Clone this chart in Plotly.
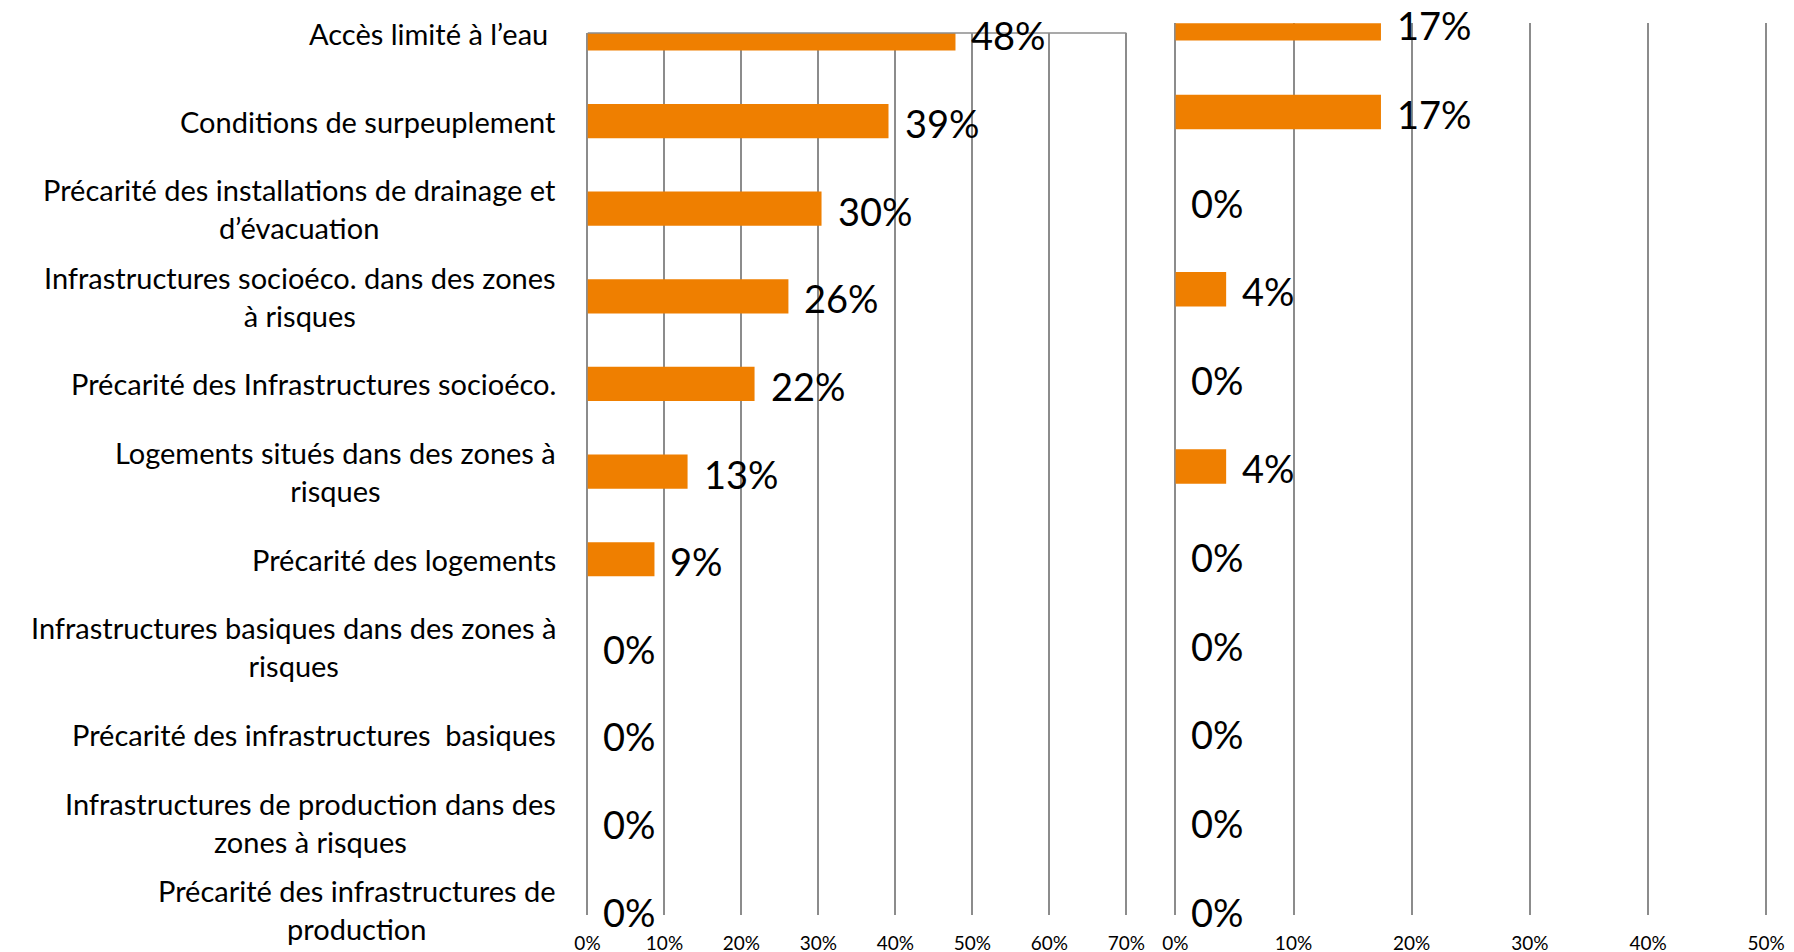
import plotly.graph_objects as go

# Categories (top to bottom) and the two series of shares
categories = [
    "Accès limité à l’eau ",
    "Conditions de surpeuplement",
    "Précarité des installations de drainage et<br>d’évacuation",
    "Infrastructures socioéco. dans des zones<br>à risques",
    "Précarité des Infrastructures socioéco.",
    "Logements situés dans des zones à<br>risques",
    "Précarité des logements",
    "Infrastructures basiques dans des zones à<br>risques",
    "Précarité des infrastructures  basiques",
    "Infrastructures de production dans des<br>zones à risques",
    "Précarité des infrastructures de<br>production",
]
left_values = [0.478, 0.391, 0.304, 0.261, 0.217, 0.130, 0.087, 0, 0, 0, 0]
right_values = [0.174, 0.174, 0, 0.043, 0, 0.043, 0, 0, 0, 0, 0]

left_ticks = [0, 0.1, 0.2, 0.3, 0.4, 0.5, 0.6, 0.7]
right_ticks = [0, 0.1, 0.2, 0.3, 0.4, 0.5]

W, H = 1794, 952
ORANGE = "#EF7F00"
GRID = "#8C8C8C"
FONT = "Lato"

fig = go.Figure()
fig.add_trace(go.Bar(y=categories, x=left_values, orientation="h",
                     xaxis="x", yaxis="y", marker_color=ORANGE,
                     marker_line_width=0, hoverinfo="x+y"))
fig.add_trace(go.Bar(y=categories, x=right_values, orientation="h",
                     xaxis="x2", yaxis="y2", marker_color=ORANGE,
                     marker_line_width=0, hoverinfo="x+y"))

# value labels, just right of each bar end
for vals, xr, yr in [(left_values, "x", "y"), (right_values, "x2", "y2")]:
    for cat, v in zip(categories, vals):
        fig.add_annotation(x=v, y=cat, xref=xr, yref=yr, text=f"{v:.0%}",
                           showarrow=False, xanchor="left", yanchor="middle",
                           xshift=14, yshift=-2,
                           font=dict(family=FONT, size=38, color="black"))

# category labels, centred lines, right-aligned block
for cat in categories:
    fig.add_annotation(x=546 / W, y=cat, xref="paper", yref="y", text=cat,
                       showarrow=False, xanchor="right", yanchor="middle",
                       align="center", font=dict(family=FONT, size=29, color="black"))

axis_common = dict(tickformat=".0%", showgrid=True, gridcolor=GRID, gridwidth=1.6,
                   zeroline=True, zerolinecolor=GRID, zerolinewidth=1.6,
                   showline=False, ticks="", ticklabelstandoff=15,
                   tickfont=dict(family=FONT, size=19, color="black"),
                   fixedrange=True)
yaxis_common = dict(type="category", categoryorder="array", categoryarray=categories,
                    showticklabels=False, showgrid=False, zeroline=False,
                    showline=False, ticks="", fixedrange=True)

fig.update_layout(
    width=W, height=H,
    margin=dict(l=0, r=0, t=0, b=0),
    paper_bgcolor="white", plot_bgcolor="white",
    showlegend=False, bargap=0.61,
    font=dict(family=FONT, color="black"),
    xaxis=dict(domain=[575.8 / W, 1125.9 / W], range=[0, 0.703], tickvals=left_ticks,
               anchor="y", **axis_common),
    yaxis=dict(domain=[1 - 907 / H, 1 - 25 / H], range=[10.06, -0.005],
               anchor="x", **yaxis_common),
    xaxis2=dict(domain=[1173.3 / W, 1776.3 / W], range=[0, 0.502], tickvals=right_ticks,
                anchor="y2", **axis_common),
    yaxis2=dict(domain=[1 - 907 / H, 1 - 15.3 / H], range=[10.06, 0],
                anchor="x2", **yaxis_common),
    shapes=[dict(type="line", xref="x", yref="y domain", x0=0, x1=0.7, y0=1, y1=1,
                 line=dict(color=GRID, width=1.6))],
)

fig.write_html("out.html")
